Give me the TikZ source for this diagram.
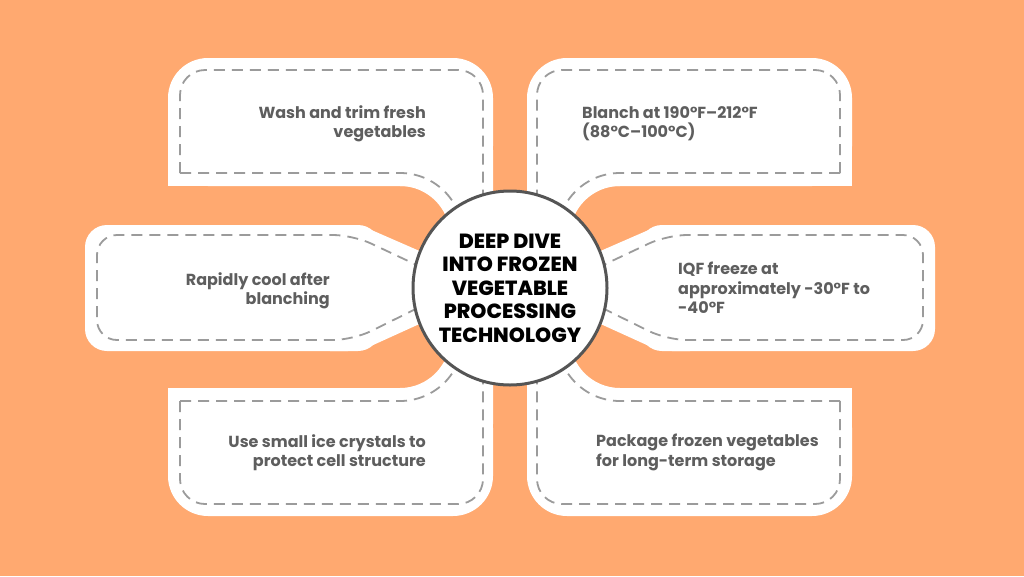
\documentclass[tikz,border=0pt]{standalone}
\usepackage{fontspec}
\setmainfont{Poppins}
\newfontfamily\hubfont{Poppins ExtraBold}
\definecolor{bgorange}{HTML}{FFA970}
\definecolor{dashgray}{HTML}{9B9B9B}
\definecolor{txtgray}{HTML}{5E5E5E}
\definecolor{hubline}{HTML}{555555}
\tikzset{
  dashline/.style={draw=dashgray, line width=1.8pt, dash pattern=on 11pt off 7pt},
  boxtext/.style={inner sep=0pt, text=txtgray, font=\bfseries\fontsize{16}{19.5}\selectfont},
}
\newcommand\tlquad{%
  \fill[white, rounded corners=40] (168,58) rectangle (493,186);
  \fill[white] (168,120) rectangle (300,186);
  \fill[white] (400,150) -- (493,150) -- (493,260) -- (450,260) -- (450,236) .. controls (450,208.4) and (427.6,186) .. (400,186) -- cycle;
  \draw[dashline, rounded corners=25] (180,173) -- (180,70) -- (483,70) -- (483,215);
  \draw[dashline] (180,173) -- (400,173) .. controls (434.8,173) and (463,201.2) .. (463,236);
}
\newcommand\mlside{%
  \fill[white, rounded corners=22] (85,225) rectangle (380,351);
  \fill[white, rounded corners=12] (330,225) -- (360,225) -- (470,273) -- (470,301) -- (360,351) -- (330,351);
  \draw[dashline, rounded corners=20] (440,276) -- (353,235) -- (97,235) -- (97,340) -- (353,340) -- (440,297);
}
\begin{document}
\begin{tikzpicture}[x=1pt, y=-1pt]
  \fill[bgorange] (0,0) rectangle (1024,576);
  \useasboundingbox (0,0) rectangle (1024,576);
  % quadrant boxes
  \begin{scope}\tlquad\end{scope}
  \begin{scope}[shift={(1020,0)}, xscale=-1]\tlquad\end{scope}
  \begin{scope}[shift={(0,574)}, yscale=-1]\tlquad\end{scope}
  \begin{scope}[shift={(1020,574)}, xscale=-1, yscale=-1]\tlquad\end{scope}
  % side boxes
  \begin{scope}\mlside\end{scope}
  \begin{scope}[shift={(1020,0)}, xscale=-1]\mlside\end{scope}
  % hub
  \node (hub) [circle, draw=hubline, line width=3pt, fill=white, minimum size=194pt, inner sep=0pt,
    align=center, font=\hubfont\fontsize{20.5}{23.5}\selectfont] at (510,288)
    {DEEP DIVE\\INTO FROZEN\\VEGETABLE\\PROCESSING\\TECHNOLOGY};
  % texts
  \node (wash) [boxtext, anchor=north east, align=right] at (426,105) {Wash and trim fresh\\vegetables};
  \node (blanch) [boxtext, anchor=north west, align=left] at (582,106) {Blanch at 190°F–212°F\\(88°C–100°C)};
  \node (cool) [boxtext, anchor=north east, align=right] at (330,272) {Rapidly cool after\\blanching};
  \node (iqf) [boxtext, anchor=north west, align=left] at (678,262) {IQF freeze at\\approximately -30°F to\\-40°F};
  \node (ice) [boxtext, anchor=north east, align=right] at (426,434) {Use small ice crystals to\\protect cell structure};
  \node (pack) [boxtext, anchor=north west, align=left] at (596,434) {Package frozen vegetables\\for long-term storage};
\end{tikzpicture}
\end{document}
